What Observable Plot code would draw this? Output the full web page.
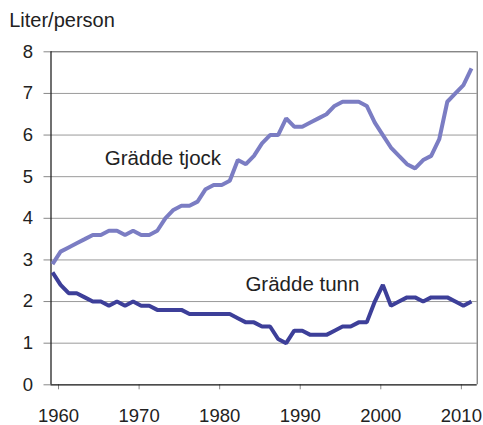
<!DOCTYPE html>
<html>
<head>
<meta charset="utf-8">
<script src="https://cdn.jsdelivr.net/npm/d3@7"></script>
<script src="https://cdn.jsdelivr.net/npm/@observablehq/plot@0.6"></script>
<style>
  html, body { margin: 0; padding: 0; background: #fff; }
  #chart svg { display: block; }
</style>
</head>
<body>
<div id="chart"></div>
<script>
const years = [1960,1961,1962,1963,1964,1965,1966,1967,1968,1969,
  1970,1971,1972,1973,1974,1975,1976,1977,1978,1979,
  1980,1981,1982,1983,1984,1985,1986,1987,1988,1989,
  1990,1991,1992,1993,1994,1995,1996,1997,1998,1999,
  2000,2001,2002,2003,2004,2005,2006,2007,2008,2009,
  2010,2011,2012];

const tjock = [2.9,3.2,3.3,3.4,3.5,3.6,3.6,3.7,3.7,3.6,
  3.7,3.6,3.6,3.7,4.0,4.2,4.3,4.3,4.4,4.7,
  4.8,4.8,4.9,5.4,5.3,5.5,5.8,6.0,6.0,6.4,
  6.2,6.2,6.3,6.4,6.5,6.7,6.8,6.8,6.8,6.7,
  6.3,6.0,5.7,5.5,5.3,5.2,5.4,5.5,5.9,6.8,
  7.0,7.2,7.6];

const tunn = [2.7,2.4,2.2,2.2,2.1,2.0,2.0,1.9,2.0,1.9,
  2.0,1.9,1.9,1.8,1.8,1.8,1.8,1.7,1.7,1.7,
  1.7,1.7,1.7,1.6,1.5,1.5,1.4,1.4,1.1,1.0,
  1.3,1.3,1.2,1.2,1.2,1.3,1.4,1.4,1.5,1.5,
  2.0,2.4,1.9,2.0,2.1,2.1,2.0,2.1,2.1,2.1,
  2.0,1.9,2.0];

const yTicks = [0,1,2,3,4,5,6,7,8];
const xTicks = [1960,1970,1980,1990,2000,2010];
const seriesLabels = ["Grädde tjock", "Grädde tunn"];
const unitLabel = "Liter/person";

const colTjock = "#7b7dc3";
const colTunn = "#3d3f99";

const tjockData = years.map((yr, i) => ({year: yr, value: tjock[i]}));
const tunnData = years.map((yr, i) => ({year: yr, value: tunn[i]}));

const font = "'Liberation Sans', Arial, Helvetica, sans-serif";

const plot = Plot.plot({
  width: 483,
  height: 425,
  marginLeft: 50.5,
  marginRight: 6.3,
  marginTop: 51.3,
  marginBottom: 40.7,
  style: {fontFamily: font, background: "#fff", color: "#222"},
  x: {domain: [1959.81, 2012.71], axis: null},
  y: {domain: [0, 8], axis: null},
  marks: [
    Plot.gridY(yTicks.filter(d => d > 0 && d < 8), {stroke: "#9a9a9a", strokeOpacity: 1, strokeWidth: 1}),
    Plot.ruleY([8], {stroke: "#555", strokeWidth: 1}),
    Plot.ruleX([2012.71], {stroke: "#555", strokeWidth: 1}),
    Plot.axisY({ticks: yTicks, label: null, tickSize: 7, tickPadding: 11, fontSize: 18.5, stroke: "#888", tickFormat: d => String(d), fill: "#222"}),
    Plot.axisX({ticks: xTicks, label: null, tickSize: 5, tickPadding: 19, fontSize: 18.5, stroke: "#888", tickFormat: d => String(d), dx: 6, fill: "#222"}),
    Plot.ruleY([0], {stroke: "#111", strokeWidth: 1.2}),
    Plot.ruleX([1959.81], {stroke: "#111", strokeWidth: 1.2}),
    Plot.line(tjockData, {x: "year", y: "value", stroke: colTjock, strokeWidth: 4, strokeLinejoin: "miter", strokeLinecap: "butt"}),
    Plot.line(tunnData, {x: "year", y: "value", stroke: colTunn, strokeWidth: 4, strokeLinejoin: "miter", strokeLinecap: "butt"}),
    Plot.text([seriesLabels[0]], {x: 1966.49, y: 5.44, text: d => d, textAnchor: "start", lineAnchor: "middle", fontSize: 20.5, fill: "#222"}),
    Plot.text([seriesLabels[1]], {x: 1983.94, y: 2.40, text: d => d, textAnchor: "start", lineAnchor: "middle", fontSize: 20.5, fill: "#222"}),
    Plot.text([unitLabel], {frameAnchor: "top-left", dx: -41.8, dy: -31.7, text: d => d, textAnchor: "start", lineAnchor: "middle", fontSize: 20, fill: "#222"})
  ]
});
document.getElementById("chart").appendChild(plot);
</script>
</body>
</html>
